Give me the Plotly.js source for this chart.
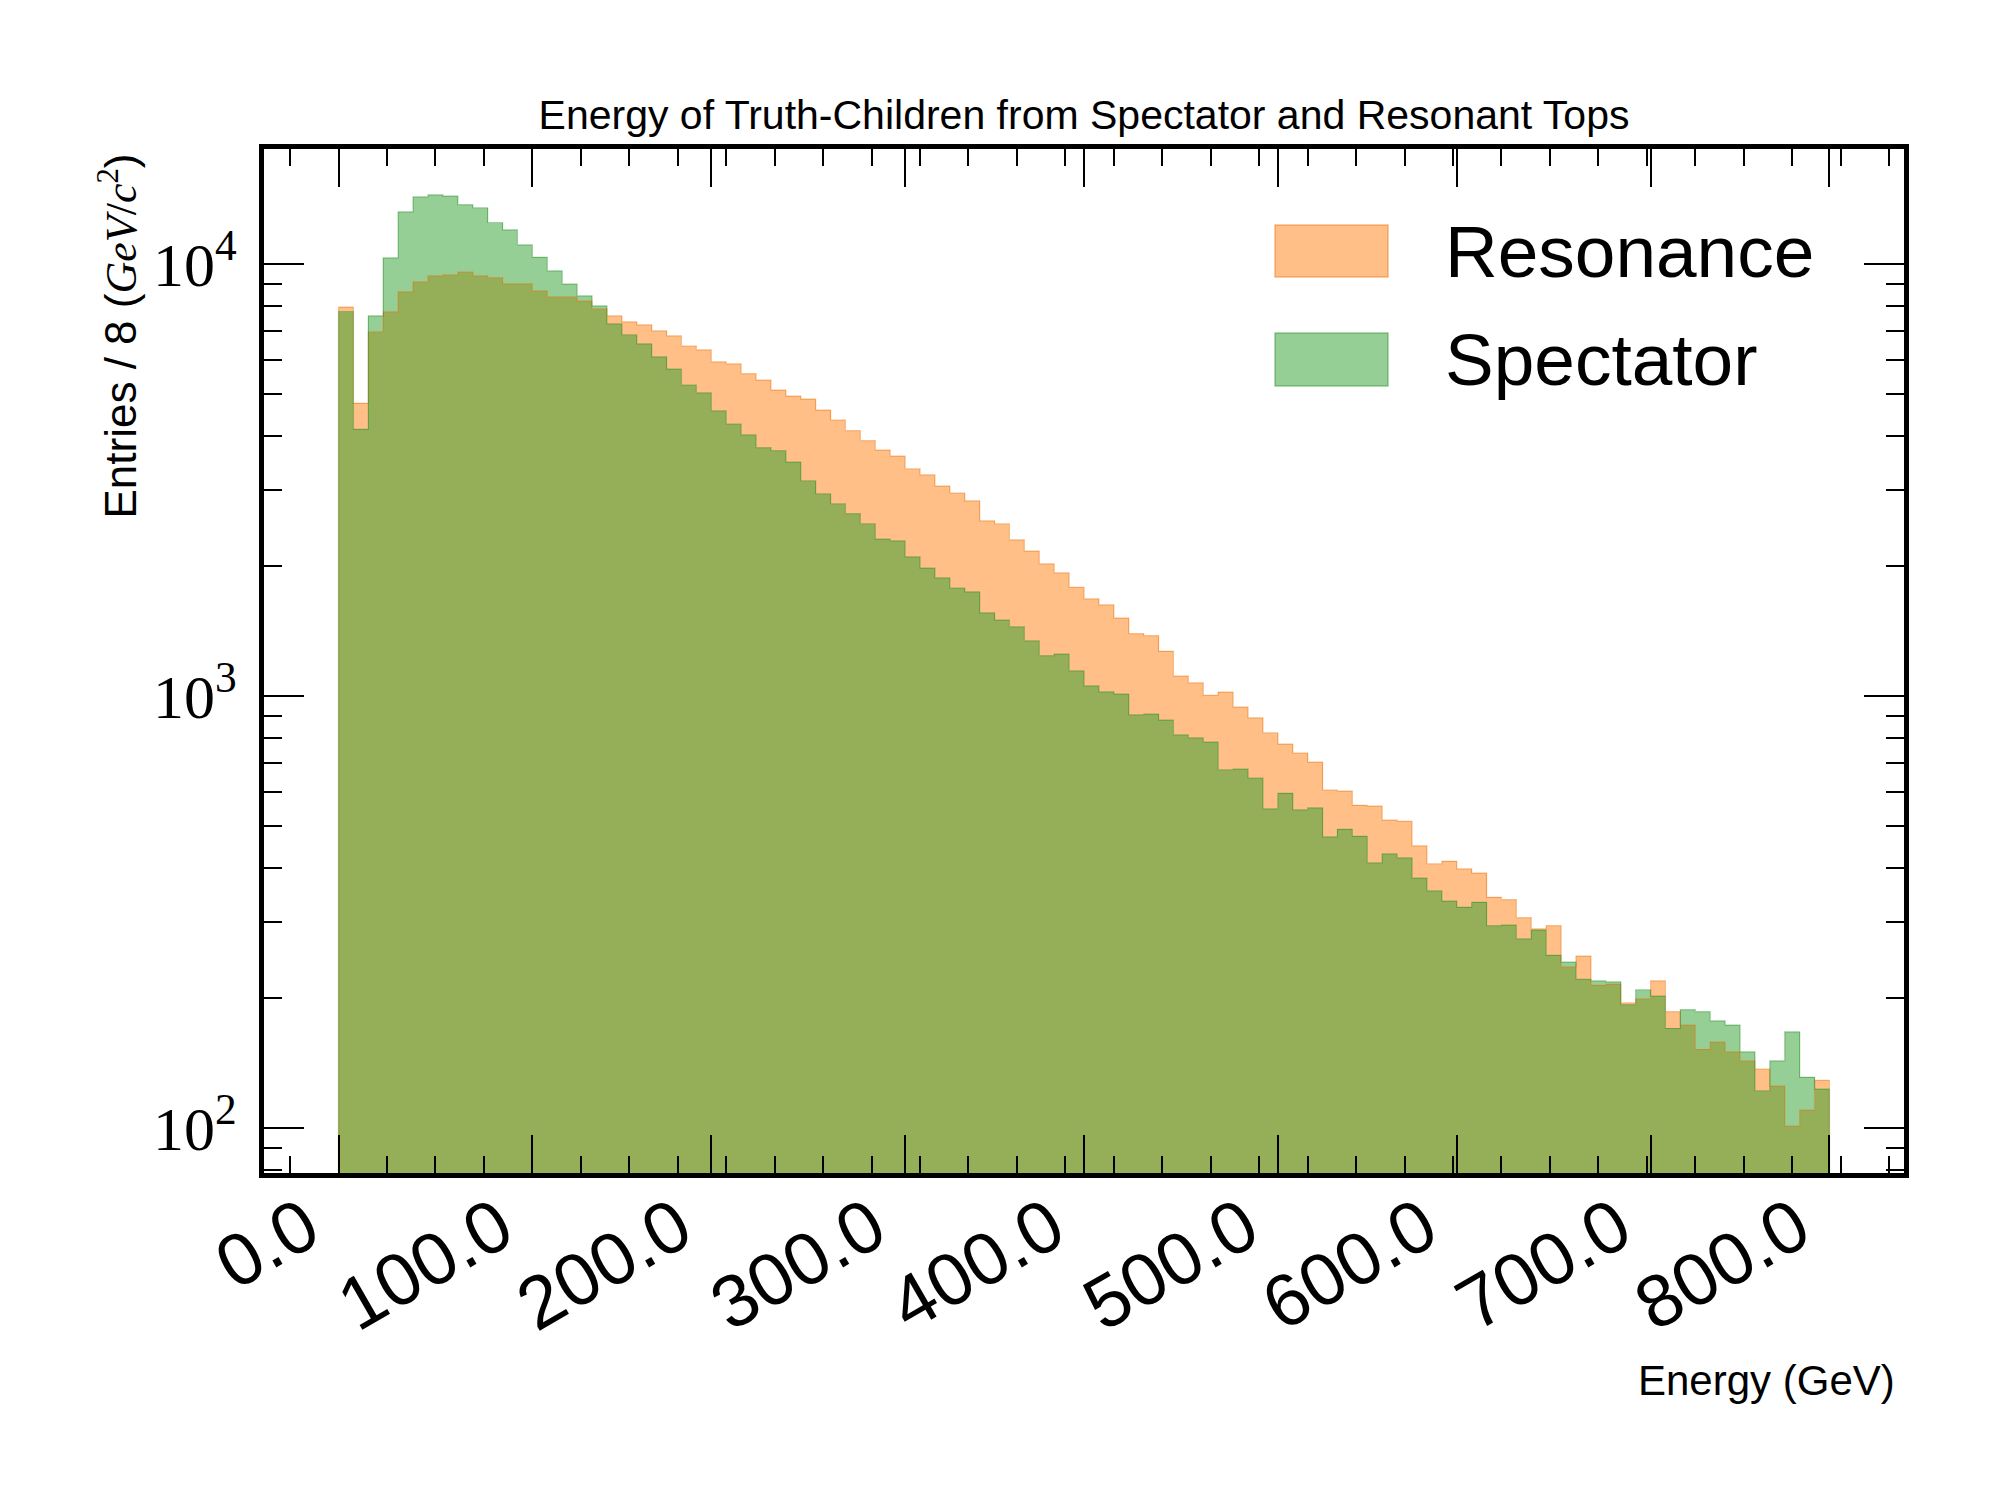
<!DOCTYPE html>
<html>
<head>
<meta charset="utf-8">
<script src="https://cdn.plot.ly/plotly-3.0.1.min.js"></script>
<style>html,body{margin:0;padding:0;background:#fff;}</style>
</head>
<body>
<div id="chart" style="width:2000px;height:1500px;"></div>
<script>
// Lower edges of the 8 GeV bins (GeV)
const binLow = [0,8,16,24,32,40,48,56,64,72,80,88,96,104,112,120,128,136,144,152,160,168,176,184,192,200,208,216,224,232,240,248,256,264,272,280,288,296,304,312,320,328,336,344,352,360,368,376,384,392,400,408,416,424,432,440,448,456,464,472,480,488,496,504,512,520,528,536,544,552,560,568,576,584,592,600,608,616,624,632,640,648,656,664,672,680,688,696,704,712,720,728,736,744,752,760,768,776,784,792];
const binWidth = 8;
const binHigh = 800;

// Entries per bin
const resonance = [7940,4757,6967,7743,8612,9085,9380,9430,9580,9380,
  9295,8990,8990,8660,8386,8386,8206,7870,7584,7345,
  7228,7000,6812,6458,6323,5931,5868,5571,5386,5106,
  4945,4866,4589,4353,4113,3900,3708,3590,3357,3250,
  3060,2950,2830,2544,2504,2299,2165,2023,1928,1785,
  1678,1625,1514,1395,1380,1268,1112,1072,1004,1021,
  942,890,822,774,738,703,606,602,558,556,
  516,513,450,409,414,398,389,342,338,307,
  289,294,236,250,214,215,195,199,219,186,
  173,152,158,150,143,137,125,101,110,129];
const spectator = [7760,4141,7585,10325,13190,14290,14450,14360,13710,13490,
  12470,11990,11070,10360,9634,8975,8434,7996,7264,6857,
  6530,6094,5711,5246,5030,4572,4261,4020,3755,3697,
  3479,3149,2938,2786,2642,2504,2307,2285,2099,1977,
  1876,1778,1742,1557,1498,1445,1342,1240,1250,1143,
  1055,1022,1010,904,908,879,813,800,782,675,
  677,646,548,595,545,551,472,491,473,411,
  431,422,379,354,335,324,333,294,295,274,
  287,251,242,221,219,218,193,209,202,170,
  188,186,177,173,150,122,143,167,131,123];

const seriesNames = ["Resonance", "Spectator"];
const xTickVals = [0,104,200,304,400,504,600,704,800];
const xTickText = ["0.0","100.0","200.0","300.0","400.0","500.0","600.0","700.0","800.0"];
const yTickVals = [100,1000,10000];
const yTickText = ["10<sup>2</sup>","10<sup>3</sup>","10<sup>4</sup>"];

const fills = ["rgba(255,127,14,0.5)", "rgba(44,160,44,0.5)"];
const edges = ["rgba(230,110,10,0.45)", "rgba(40,140,40,0.45)"];

const centers = binLow.map(v => v + binWidth / 2);

function stepOutline(vals) {
  const xs = [binLow[0]].concat(binLow, [binHigh, binHigh]);
  const ys = [1].concat(vals, [vals[vals.length - 1], 1]);
  return {xs, ys};
}

const traces = [];
[resonance, spectator].forEach((vals, i) => {
  traces.push({
    type: "bar", x: centers, y: vals, width: binWidth,
    name: seriesNames[i], showlegend: false,
    marker: {color: fills[i], line: {width: 0}},
    hoverinfo: "x+y+name"
  });
});
[resonance, spectator].forEach((vals, i) => {
  const o = stepOutline(vals);
  traces.push({
    type: "scatter", mode: "lines", x: o.xs, y: o.ys,
    line: {shape: "hv", color: edges[i], width: 1.2},
    showlegend: false, hoverinfo: "skip"
  });
});

// minor log ticks
const yMinor = [];
[10, 100, 1000, 10000].forEach(d => { for (let k = 2; k <= 9; k++) yMinor.push(k * d); });

const W = 2000, H = 1500;
const mL = 264, mR = 96, mT = 149, mB = 327;
const pw = W - mL - mR, ph = H - mT - mB;
const px = x => (x - mL) / pw;
const py = y => (H - mB - y) / ph;

const sans = "Liberation Sans, Arial, Helvetica, sans-serif";
const serif = "Liberation Serif, DejaVu Serif, serif";

const shapes = [
  {type: "rect", xref: "paper", yref: "paper", x0: px(1275), x1: px(1388), y0: py(277), y1: py(225),
   fillcolor: fills[0], line: {color: edges[0], width: 1.5}},
  {type: "rect", xref: "paper", yref: "paper", x0: px(1275), x1: px(1388), y0: py(386), y1: py(333),
   fillcolor: fills[1], line: {color: edges[1], width: 1.5}}
];

const annotations = [
  {xref: "paper", yref: "paper", x: px(1443), y: py(251), xanchor: "left", yanchor: "middle",
   text: seriesNames[0], showarrow: false, font: {family: sans, size: 73, color: "#000"}},
  {xref: "paper", yref: "paper", x: px(1443), y: py(359), xanchor: "left", yanchor: "middle",
   text: seriesNames[1], showarrow: false, font: {family: sans, size: 73, color: "#000"}},
  {xref: "paper", yref: "paper", x: px(1897), y: py(1380), xanchor: "right", yanchor: "middle",
   text: "Energy (GeV)", showarrow: false, font: {family: sans, size: 42, color: "#000"}},
  {xref: "paper", yref: "paper", x: px(118), y: py(152), xanchor: "center", yanchor: "top",
   textangle: -90, showarrow: false, font: {family: sans, size: 44, color: "#000"},
   text: "Entries / 8 (<span style=\"font-family:'Liberation Serif'\"><i>GeV</i>/<i>c</i><sup>2</sup></span>)"}
];

const layout = {
  width: W, height: H, autosize: false,
  paper_bgcolor: "#fff", plot_bgcolor: "#fff",
  margin: {l: mL, r: mR, t: mT, b: mB, pad: 0},
  barmode: "overlay", bargap: 0,
  showlegend: false,
  font: {family: sans, color: "#000"},
  title: {text: "Energy of Truth-Children from Spectator and Resonant Tops",
    font: {family: sans, size: 41, color: "#000"},
    x: 0.5, xref: "paper", y: 1 - 115 / H, yref: "container", yanchor: "middle"},
  xaxis: {
    range: [-40, 840], tickmode: "array", tickvals: xTickVals, ticktext: xTickText,
    tickangle: -30, tickfont: {family: sans, size: 74, color: "#000"},
    ticks: "inside", ticklen: 38, tickwidth: 2, tickcolor: "#000",
    showline: true, linewidth: 5, linecolor: "#000", mirror: "allticks",
    showgrid: false, zeroline: false, ticklabelstandoff: -22, ticklabelshift: -33,
    minor: {ticks: "inside", ticklen: 17, tickwidth: 2, tickcolor: "#000", dtick: 26, tick0: 0, showgrid: false}
  },
  yaxis: {
    type: "log", range: [Math.log10(78.7), Math.log10(18450)],
    tickmode: "array", tickvals: yTickVals, ticktext: yTickText,
    tickfont: {family: serif, size: 62, color: "#000"},
    ticks: "inside", ticklen: 40, tickwidth: 2, tickcolor: "#000",
    showline: true, linewidth: 5, linecolor: "#000", mirror: "allticks",
    showgrid: false, zeroline: false, ticklabelstandoff: 10,
    minor: {ticks: "inside", ticklen: 18, tickwidth: 2, tickcolor: "#000", tickmode: "array", tickvals: yMinor, showgrid: false}
  },
  shapes: shapes,
  annotations: annotations
};

Plotly.newPlot("chart", traces, layout, {staticPlot: true, displayModeBar: false});
</script>
</body>
</html>
